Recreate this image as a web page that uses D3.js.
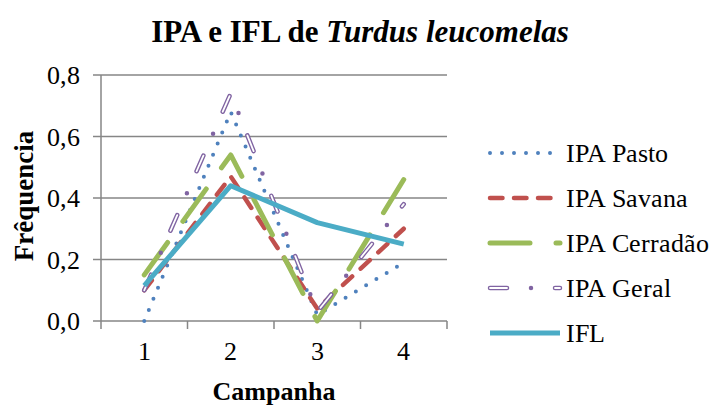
<!DOCTYPE html>
<html>
<head>
<meta charset="utf-8">
<script src="https://cdn.jsdelivr.net/npm/d3@7"></script>
<style>
  @font-face {
    font-family: "ChartSerif";
    font-weight: 400;
    src: local("Liberation Serif"), local("LiberationSerif"), local("LiberationSerif-Regular"), local("Tinos"), local("Tinos-Regular");
  }
</style>
</head>
<body style="margin:0">
<script>
const campanhas = ["1", "2", "3", "4"];
const yTicks = [0, 0.2, 0.4, 0.6, 0.8];

const ipaPasto = [0.0, 0.68, 0.02, 0.19];
const ipaSavana = [0.10, 0.47, 0.04, 0.30];
const ipaCerradao = [0.15, 0.54, 0.0, 0.46];
const ipaGeral = [0.10, 0.74, 0.03, 0.38];
const ifl = [0.115, 0.44, 0.32, 0.25];

const seriesNames = ["IPA Pasto", "IPA Savana", "IPA Cerradão", "IPA Geral", "IFL"];
const seriesValues = [ipaPasto, ipaSavana, ipaCerradao, ipaGeral, ifl];

// line styles per series (Excel-like)
const styles = [
  { color: "#4F81BD", width: 4, dash: "0 12" },
  { color: "#C0504D", width: 4.5, dash: "12.5 11.5" },
  { color: "#9BBB59", width: 5, dash: "40 26" },
  { color: "#8064A2", width: 4.5, dash: "17 24 0 24", hollow: "17 48" },
  { color: "#4BACC6", width: 5, dash: null }
];

const W = 717, H = 407;
const plot = { left: 101, right: 447, top: 75, bottom: 321 };
const serifBold = '"Liberation Serif"';
const serifReg = '"ChartSerif", "Liberation Serif", "DejaVu Serif", serif';
const regSize = 26;

const svg = d3.select("body").append("svg")
  .attr("width", W).attr("height", H);

const x = d3.scaleBand().domain(campanhas).range([plot.left, plot.right]);
const y = d3.scaleLinear().domain([0, 0.8]).range([plot.bottom, plot.top]);
const fmt = d => d3.format(".1f")(d).replace(".", ",");

// title
const title = svg.append("text")
  .attr("x", 360).attr("y", 42)
  .attr("text-anchor", "middle").attr("font-size", 31).attr("font-weight", "bold")
  .style("font-family", serifBold);
title.append("tspan").text("IPA e IFL de ");
title.append("tspan").attr("font-style", "italic").text("Turdus leucomelas");

// gridlines (with small left ticks)
svg.append("g").selectAll("line").data(yTicks).join("line")
  .attr("x1", plot.left - 8).attr("x2", plot.right)
  .attr("y1", d => y(d)).attr("y2", d => y(d))
  .attr("stroke", "#868686").attr("stroke-width", 1.5);

// y axis line
svg.append("line")
  .attr("x1", plot.left).attr("x2", plot.left)
  .attr("y1", plot.top).attr("y2", plot.bottom)
  .attr("stroke", "#868686").attr("stroke-width", 1.5);

// x ticks at category boundaries
const bounds = campanhas.map(c => x(c)).concat([plot.right]);
svg.append("g").selectAll("line").data(bounds).join("line")
  .attr("x1", d => d).attr("x2", d => d)
  .attr("y1", plot.bottom).attr("y2", plot.bottom + 8)
  .attr("stroke", "#868686").attr("stroke-width", 1.5);

// tick labels
yTicks.forEach(t => {
  svg.append("text")
    .attr("x", plot.left - 21).attr("y", y(t) + 9)
    .attr("text-anchor", "end").attr("font-size", regSize)
    .style("font-family", serifReg)
    .text(fmt(t));
});

campanhas.forEach(c => {
  svg.append("text")
    .attr("x", x(c) + x.bandwidth() / 2).attr("y", 360)
    .attr("text-anchor", "middle").attr("font-size", regSize)
    .style("font-family", serifReg)
    .text(c);
});

svg.append("text")
  .attr("x", 274).attr("y", 400)
  .attr("text-anchor", "middle").attr("font-size", 26).attr("font-weight", "bold")
  .style("font-family", serifBold)
  .text("Campanha");

svg.append("text")
  .attr("transform", "translate(33,196) rotate(-90)")
  .attr("text-anchor", "middle").attr("font-size", 27).attr("font-weight", "bold")
  .style("font-family", serifBold)
  .text("Frêquencia");

// lines
const line = d3.line()
  .x((d, i) => x(campanhas[i]) + x.bandwidth() / 2)
  .y(d => y(d));

function drawStroke(g, s, path) {
  const p = g.append("path").attr("d", path)
    .attr("fill", "none").attr("stroke", s.color)
    .attr("stroke-width", s.width)
    .attr("stroke-linecap", s.dash ? "round" : "butt")
    .attr("stroke-linejoin", "round");
  if (s.dash) p.attr("stroke-dasharray", s.dash);
  if (s.hollow) {
    g.append("path").attr("d", path)
      .attr("fill", "none").attr("stroke", "#fff")
      .attr("stroke-width", 1.8).attr("stroke-linecap", "round")
      .attr("stroke-dasharray", s.hollow);
  }
}

const lines = svg.append("g");
seriesValues.forEach((vals, i) => {
  drawStroke(lines.append("g"), styles[i], line(vals));
});

// legend
seriesNames.forEach((name, i) => {
  const ly = 153 + i * 45;
  const g = svg.append("g");
  drawStroke(g, styles[i], d3.line()([[490, ly], [560, ly]]));
  g.append("text").attr("x", 566).attr("y", ly + 9)
    .attr("font-size", regSize)
    .style("font-family", serifReg)
    .text(name);
});
</script>
</body>
</html>
